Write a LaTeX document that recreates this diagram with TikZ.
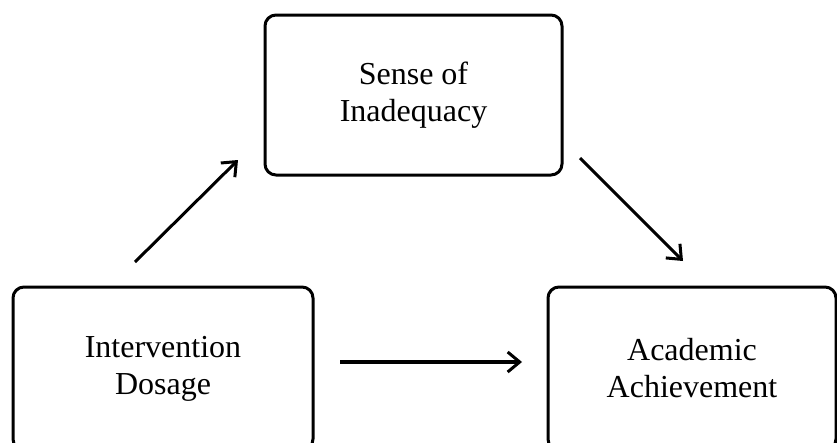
\documentclass[tikz,border=0pt]{standalone}
\usepackage{fontspec}
\setmainfont{Liberation Serif}
\usetikzlibrary{arrows.meta}

\begin{document}
\begin{tikzpicture}[
    x=1pt, y=-1pt,
    box/.style={draw, rounded corners=11pt, line width=3pt, align=center,
        inner sep=0pt, font=\fontsize{32}{37}\selectfont},
    arrowline/.style={line width=3pt, -{Straight Barb[length=12pt, width=20pt, line width=3pt]}}
    ]

\useasboundingbox (0,0) rectangle (837,442);

\node[box, minimum width=297pt, minimum height=160pt] (sense) at (413.5,95) {Sense of\\Inadequacy};
\node[box, minimum width=300pt, minimum height=163pt] (dose) at (163,368.5) {Intervention\\Dosage};
\node[box, minimum width=288pt, minimum height=163pt] (ach) at (692,368.5) {Academic\\Achievement};

\coordinate (a1) at (135,262);
\coordinate (a2) at (238,160);
\coordinate (b1) at (580,158);
\coordinate (b2) at (683,261);
\coordinate (c1) at (340,362);
\coordinate (c2) at (522,362);

\draw[arrowline] (a1) -- (a2);
\draw[arrowline] (b1) -- (b2);
\draw[arrowline, line width=3.6pt] (c1) -- (c2);

\end{tikzpicture}
\end{document}
